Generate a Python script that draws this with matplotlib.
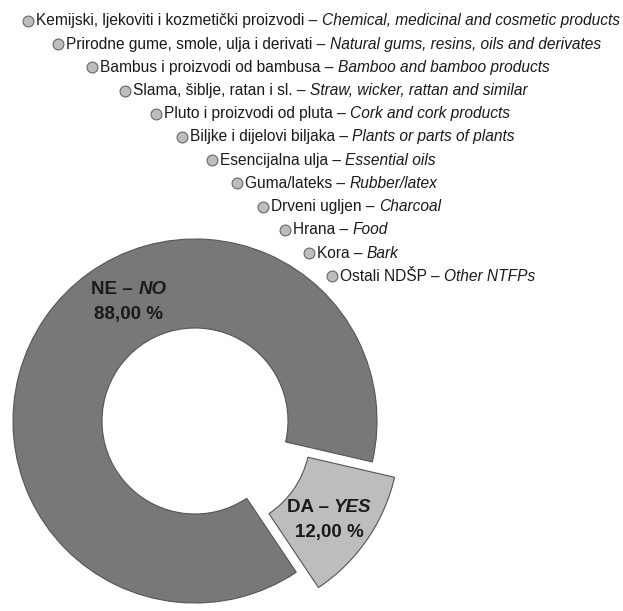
import matplotlib
matplotlib.use("Agg")
import matplotlib.pyplot as plt

# data
answers = ["NE", "DA"]
answers_en = ["NO", "YES"]
shares = [88.0, 12.0]

products_hr = ["Kemijski, ljekoviti i kozmetički proizvodi", "Prirodne gume, smole, ulja i derivati",
               "Bambus i proizvodi od bambusa", "Slama, šiblje, ratan i sl.", "Pluto i proizvodi od pluta",
               "Biljke i dijelovi biljaka", "Esencijalna ulja", "Guma/lateks", "Drveni ugljen", "Hrana",
               "Kora", "Ostali NDŠP"]
products_en = ["Chemical, medicinal and cosmetic products", "Natural gums, resins, oils and derivates",
               "Bamboo and bamboo products", "Straw, wicker, rattan and similar", "Cork and cork products",
               "Plants or parts of plants", "Essential oils", "Rubber/latex", "Charcoal", "Food",
               "Bark", "Other NTFPs"]

FONT = ["Liberation Sans", "DejaVu Sans"]
DARK = "#787878"
LIGHT = "#bdbdbd"
TXT = "#1a1a1a"

fig = plt.figure(figsize=(6.23, 6.11), dpi=100)
ax = fig.add_axes([0, 0, 1, 1])

# donut, NE starts just below horizontal and runs counter-clockwise
ax.pie(shares, colors=[DARK, LIGHT], startangle=-13, counterclock=True,
       center=(195, -421), radius=182, explode=[0, 27],
       wedgeprops=dict(width=89, edgecolor="#555555", linewidth=0.8))

# pie() resets the limits, so set them afterwards (1 unit = 1 pixel)
ax.set_xlim(0, 623)
ax.set_ylim(-611, 0)
ax.set_aspect("equal")
ax.axis("off")

renderer = fig.canvas.get_renderer()


def mixed(x, y, parts, size=11.2, weight="normal", ha="left"):
    """draw text made of (string, style) pieces next to each other"""
    objs = []
    for s, st in parts:
        t = ax.text(0, y, s, fontsize=size, family=FONT, style=st, weight=weight,
                    color=TXT, va="center", ha="left")
        objs.append(t)
    widths = [t.get_window_extent(renderer).width for t in objs]
    total = sum(widths)
    cx = x - total / 2 if ha == "center" else x
    for t, w in zip(objs, widths):
        t.set_x(cx)
        cx += w


# list of product types with bullets
marker_x = [28, 58, 92, 125, 156, 182, 212, 237, 263, 285, 309, 332]
y0, dy = -21, -23.2
for i, (hr, en) in enumerate(zip(products_hr, products_en)):
    y = y0 + i * dy
    ax.plot(marker_x[i], y, "o", ms=7.8, color=LIGHT, mec="#666666", mew=0.8)
    mixed(marker_x[i] + 8, y, [(hr + " – ", "normal"), (en, "italic")])

# slice labels
label_pos = [(129, -289), (329, -508)]
for (x, y), a, e, v in zip(label_pos, answers, answers_en, shares):
    mixed(x, y, [(a + " – ", "normal"), (e, "italic")], size=13.5, weight="bold", ha="center")
    mixed(x, y - 25, [(f"{v:.2f}".replace(".", ",") + " %", "normal")], size=13.5,
          weight="bold", ha="center")

fig.savefig("out.png", dpi=100)
